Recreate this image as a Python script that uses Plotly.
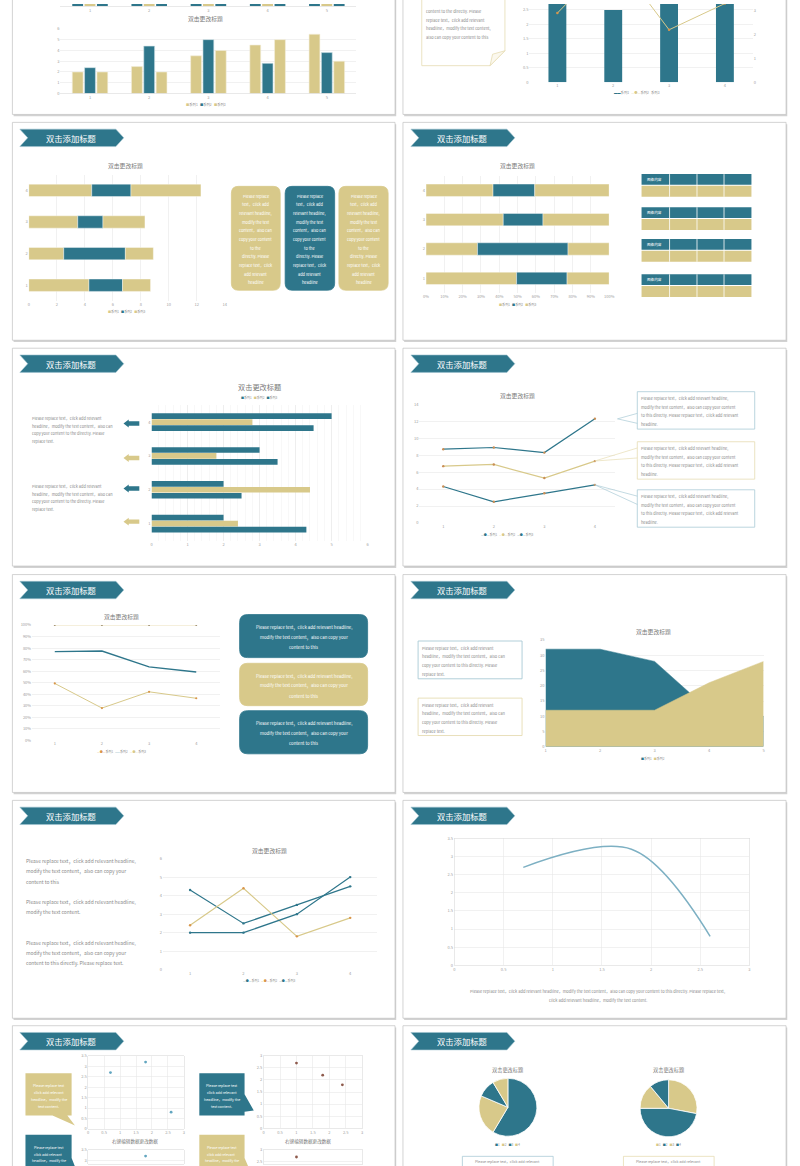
import numpy as np
import plotly.graph_objects as go

W, H = 800, 1166
BLUE = '#2E768B'
TAN = '#D8C98A'
GRID = '#E8E8E8'
TICK = '#A0A0A0'
TXT = '#8A8A8A'
ORANGE = '#D9964A'
LBLUE = '#A9CAD5'
LTAN = '#E6DCB3'
FONT = 'Noto Sans CJK SC, Noto Sans, sans-serif'

# ---------------- data ----------------
series_names = ['系列1', '系列2', '系列3']
cats4 = [1, 2, 3, 4]
series1 = [4.3, 2.5, 3.5, 4.5]
series2 = [2.4, 4.4, 1.8, 2.8]
series3 = [2.0, 2.0, 3.0, 5.0]

cats5 = [1, 2, 3, 4, 5]
col_a = [2.0, 2.5, 3.5, 4.5, 5.5]
col_b = [2.4, 4.4, 5.0, 2.8, 3.8]
col_c = [2.0, 2.0, 4.0, 5.0, 3.0]
prev_a = [4.0, 4.5, 3.8, 4.2, 4.6]   # chart above, only its bottom is visible
prev_b = [3.5, 3.0, 4.1, 3.6, 3.9]
prev_c = [4.2, 3.8, 3.9, 4.4, 4.0]

combo_bar = [4.3, 2.5, 3.5, 4.5]
combo_line = [2.9, 5.3, 2.2, 3.3]

area_s1 = [32, 32, 28, 12, 10]
area_s2 = [12, 12, 12, 21, 28]

curve_x = [0.7, 1.8, 2.6]
curve_y = [2.7, 3.2, 0.8]
scat2_x = [1.0, 1.8, 2.4]
scat2_y = [2.7, 2.2, 1.8]

pie_labels = ['1', '2', '3', '4']
pie1 = [8.2, 3.2, 1.4, 1.2]
pie2 = [2.8, 4.7, 1.4, 1.1]

TEXT_4 = ["Please replace text，click add relevant",
          "headline，modify the text content，also can",
          "copy your content to the directly. Please",
          "replace text."]
TEXT_BOX = ["Please replace", "text，click add", "relevant headline,", "modify the text",
            "content，also can", "copy your content", "to the", "directly. Please",
            "replace text，click", "add relevant", "headline"]
TEXT_CALL = ["Please replace text，click add relevant headline,",
             "modify the text content，also can copy your content",
             "to this directly. Please replace text，click add relevant",
             "headline."]
TEXT_3 = ["Please replace text，click add relevant headline,",
          "modify the text content，also can copy your",
          "content to this"]
TEXT_SMALL = ["Please replace text", "click add relevant", "headline，modify the", "text content."]


# ---------------- helpers ----------------
def X(x):
    return x / W


def Y(y):
    return 1 - y / H


fig = go.Figure()
shapes, annos, layout = [], [], {}
n_axes = [0]


def fmt(v):
    return ('%g' % round(v, 3))


def new_axes(xpix, ypix, xr, yr, xticks=None, yticks=None, xgrid=False, ygrid=True,
             xline=False, frame=False, xminor=None):
    n_axes[0] += 1
    n = n_axes[0]
    s = '' if n == 1 else str(n)
    y0 = max(0.0, Y(ypix[0]))
    y1 = min(1.0, Y(ypix[1]))
    base = dict(zeroline=False, ticks='', tickfont=dict(size=4, color=TICK, family=FONT),
                gridcolor=GRID, gridwidth=0.6, fixedrange=True, linecolor='#DADADA', linewidth=0.6)
    xa = dict(base, domain=[X(xpix[0]), X(xpix[1])], range=xr, anchor='y' + s,
              showgrid=xgrid, showline=xline or frame, mirror=frame)
    ya = dict(base, domain=[y0, y1], range=yr, anchor='x' + s, showgrid=ygrid,
              showline=frame, mirror=frame)
    for ax, t in ((xa, xticks), (ya, yticks)):
        if t is None:
            ax['showticklabels'] = False
            ax['tickmode'] = 'array'
            ax['tickvals'] = []
        else:
            ax['tickmode'] = 'array'
            ax['tickvals'] = list(t[0])
            ax['ticktext'] = list(t[1])
    if xminor:
        xa['minor'] = xminor
    layout['xaxis' + s] = xa
    layout['yaxis' + s] = ya
    return 'x' + s, 'y' + s


def ticks(vals, pct=False):
    vals = list(vals)
    return vals, [(f'{int(round(v * 100))}%' if pct else fmt(v)) for v in vals]


def rect(x0, y0, x1, y1, fill=None, line=None, lw=0.8, layer='above'):
    shapes.append(dict(type='rect', xref='paper', yref='paper', x0=X(x0), x1=X(x1),
                       y0=Y(y1), y1=Y(y0), fillcolor=fill or 'rgba(0,0,0,0)',
                       line=dict(color=line or 'rgba(0,0,0,0)', width=lw if line else 0),
                       layer=layer))


def poly(points, fill=None, line=None, lw=0.8, closed=True, layer='above'):
    d = 'M ' + ' L '.join(f'{X(x):.5f},{Y(y):.5f}' for x, y in points) + (' Z' if closed else '')
    shapes.append(dict(type='path', xref='paper', yref='paper', path=d,
                       fillcolor=fill or 'rgba(0,0,0,0)',
                       line=dict(color=line or 'rgba(0,0,0,0)', width=lw if line else 0),
                       layer=layer))


def rrect(x0, y0, x1, y1, r, fill, line=None):
    p = lambda x, y: f'{X(x):.5f},{Y(y):.5f}'
    d = (f'M {p(x0 + r, y0)} L {p(x1 - r, y0)} Q {p(x1, y0)} {p(x1, y0 + r)} '
         f'L {p(x1, y1 - r)} Q {p(x1, y1)} {p(x1 - r, y1)} L {p(x0 + r, y1)} '
         f'Q {p(x0, y1)} {p(x0, y1 - r)} L {p(x0, y0 + r)} Q {p(x0, y0)} {p(x0 + r, y0)} Z')
    shapes.append(dict(type='path', xref='paper', yref='paper', path=d, fillcolor=fill,
                       line=dict(color=line or fill, width=0.8), layer='above'))


def txt(x, y, s, size=4.5, color=TXT, xanchor='left'):
    annos.append(dict(x=X(x), y=Y(y), xref='paper', yref='paper', text=s, showarrow=False,
                      xanchor=xanchor, yanchor='middle', borderpad=0,
                      font=dict(size=size, color=color, family=FONT)))


def lines(x, y0, dy, rows, size, color=TXT, xanchor='left'):
    for i, r in enumerate(rows):
        txt(x, y0 + i * dy, r, size, color, xanchor)


def legend(xc, y, items, size=3.6):
    parts = [f"<span style='color:{c}'>{sym}</span>{name}" for sym, c, name in items]
    txt(xc, y, '   '.join(parts), size, TXT, 'center')


def banner(x0, y0):
    x1, y1 = x0 + 105, y0 + 17.5
    ym = (y0 + y1) / 2
    poly([(x0, y0), (x1 - 8, y0), (x1, ym), (x1 - 8, y1), (x0, y1), (x0 + 8, ym)],
         fill=BLUE, line='#9EC2CE', lw=0.6)
    txt((x0 + x1) / 2 - 0.5, ym, '双击添加标题', 8.3, 'white', 'center')


def title(x, y, s='双击更改标题', size=5.8):
    txt(x, y, s, size, '#777777', 'center')


# ---------------- slide frames ----------------
row_tops = [-108, 119, 346, 573.5, 800.5, 1027]
SLIDE_H = 219
for t in row_tops:
    for a, b in ((9.5, 396), (404, 791)):
        rect(a + 1.2, t + 1.8, b + 1.2, t + SLIDE_H + 1.8, fill='#D2D2D2', layer='below')
        rect(a, t, b, t + SLIDE_H, fill='white', line='#C2C2C2', lw=0.7, layer='below')
    if t > 0:
        banner(17, t + 6.8)
        banner(412, t + 6.8)

# ---------------- row 0 left: clustered columns ----------------
xa, ya = new_axes((58, 357), (2.3, 0), [0.5, 5.5], [0, 1], xticks=ticks(cats5), xline=True, ygrid=False)
for vals, c, off in ((prev_b, BLUE, -0.3), (prev_a, TAN, -0.092), (prev_c, BLUE, 0.117)):
    fig.add_bar(x=cats5, y=vals, width=0.183, offset=off, marker=dict(color=c, line=dict(width=0)),
                xaxis=xa, yaxis=ya)
title(205, 15)
xa, ya = new_axes((58, 357), (90, 25), [0.5, 5.5], [0, 6], xticks=ticks(cats5),
                  yticks=ticks(range(0, 7)), xline=True)
for vals, c, off in ((col_a, TAN, -0.3), (col_b, BLUE, -0.092), (col_c, TAN, 0.117)):
    fig.add_bar(x=cats5, y=vals, width=0.183, offset=off,
                marker=dict(color=c, line=dict(color='#F3EEDB' if c == TAN else '#CFE0E6', width=0.6)),
                xaxis=xa, yaxis=ya)
legend(205, 100.7, [('■', TAN, series_names[0]), ('■', BLUE, series_names[1]), ('■', TAN, series_names[2])], 3.3)

# ---------------- row 0 right: combo chart ----------------
poly([(423, -5), (507, -5), (507, 47), (492, 62), (423, 62)], fill='white', line=LTAN, lw=0.8)
poly([(492, 62), (494.5, 50.5), (507, 47)], fill='#FBF8EE', line=LTAN, lw=0.8)
lines(426, 7, 8.7, ["content to the directly. Please", "replace text，click add relevant",
                    "headline，modify the text content,", "also can copy your content to this"], 4.0)
xa, ya = new_axes((531.8, 757.4), (78.7, 0), [0.5, 4.5], [0, 78.7 / 29.08],
                  xticks=ticks(cats4), yticks=ticks(np.arange(0, 2.51, 0.5)))
n = n_axes[0]
n_axes[0] += 1   # reserve the number used by the secondary axis
layout[f'yaxis{n + 1}'] = dict(overlaying=f'y{n}', anchor=f'x{n}', side='right', range=[0, 78.7 / 24.0],
                               showgrid=False, zeroline=False, ticks='', fixedrange=True,
                               tickmode='array', tickvals=[0, 1, 2, 3], ticktext=['0', '1', '2', '3'],
                               tickfont=dict(size=4, color=TICK, family=FONT))
fig.add_bar(x=cats4, y=combo_bar, width=0.32, offset=-0.16, marker=dict(color=BLUE, line=dict(width=0)),
            xaxis=xa, yaxis=ya)
fig.add_scatter(x=cats4, y=combo_line, mode='lines+markers', line=dict(color=TAN, width=1),
                marker=dict(color=ORANGE, size=2.5), xaxis=xa, yaxis=f'y{n + 1}')
legend(640, 89.3, [('▬▬', BLUE, series_names[0]), ('—●—', TAN, series_names[1]), ('', TXT, series_names[2])], 3.3)

# ---------------- row 1 left: stacked bars ----------------
title(124, 162.3)
xa, ya = new_axes((26, 224), (298.6, 171.4), [0, 14], [0.5, 4.5], xticks=ticks(range(0, 15, 2)),
                  yticks=ticks(cats4), xgrid=True, ygrid=False)
cum1 = np.array(series1)
cum2 = cum1 + np.array(series2)
for vals, b, c in ((series1, None, TAN), (series2, cum1, BLUE), (series3, cum2, TAN)):
    fig.add_bar(y=cats4, x=vals, base=None if b is None else list(b), orientation='h', width=0.39,
                offset=-0.195, marker=dict(color=c, line=dict(color='white', width=0.4)),
                xaxis=xa, yaxis=ya)
legend(125, 309.3, [('■', TAN, series_names[0]), ('■', BLUE, series_names[1]), ('■', TAN, series_names[2])], 3.1)
for (x0, x1), c in (((230.7, 280), TAN), ((285, 335), BLUE), ((339.3, 389), TAN)):
    rrect(x0, 183.3, x1, 287.7, 7, c)
    lines((x0 + x1) / 2, 192.7, 8.7, TEXT_BOX, 3.9, 'white', 'center')

# ---------------- row 1 right: 100% stacked bars ----------------
title(520, 162.7)
tot = np.array(series1) + np.array(series2) + np.array(series3)
p1 = np.array(series1) / tot
p2 = np.array(series2) / tot
p3 = np.array(series3) / tot
xa, ya = new_axes((427.3, 612.3), (290.5, 172.5), [0, 1], [0.5, 4.5],
                  xticks=ticks(np.arange(0, 1.001, 0.1), pct=True), yticks=ticks(cats4), xgrid=True, ygrid=False)
for vals, b, c in ((p1, None, TAN), (p2, p1, BLUE), (p3, p1 + p2, TAN)):
    fig.add_bar(y=cats4, x=list(vals), base=None if b is None else list(b), orientation='h', width=0.42,
                offset=-0.21, marker=dict(color=c, line=dict(color='white', width=0.4)),
                xaxis=xa, yaxis=ya)
legend(520, 301.7, [('■', TAN, series_names[0]), ('■', BLUE, series_names[1]), ('■', TAN, series_names[2])], 3.1)
for top in (171, 204.3, 236.3, 271.7):
    rect(645, top, 756, top + 10.7, fill=BLUE)
    rect(645, top + 11.8, 756, top + 22.8, fill=TAN)
    for sx in (673.3, 701, 728.3):
        shapes.append(dict(type='line', xref='paper', yref='paper', x0=X(sx), x1=X(sx),
                           y0=Y(top), y1=Y(top + 22.8), line=dict(color='white', width=0.8)))
    txt(649, top + 5.4, '图像内容', 3.6, 'white')

# ---------------- row 2 left: clustered horizontal bars ----------------
title(259, 385, size=7.2)
legend(259, 395.3, [('■', BLUE, series_names[0]), ('■', TAN, series_names[1]), ('■', BLUE, series_names[2])], 3.0)
xa, ya = new_axes((150, 368.3), (539.3, 403.3), [0, 6], [0.5, 4.5], xticks=ticks(range(0, 7)),
                  yticks=ticks(cats4), xgrid=True, ygrid=False,
                  xminor=dict(dtick=0.2, showgrid=True, gridcolor='#F1F1F1', gridwidth=0.5))
for vals, c, off in ((series3, BLUE, 0.092), (series2, TAN, -0.084), (series1, BLUE, -0.26)):
    fig.add_bar(y=cats4, x=vals, orientation='h', width=0.168, offset=off,
                marker=dict(color=c, line=dict(width=0)), xaxis=xa, yaxis=ya)
for yc, c in ((421.7, BLUE), (456.3, TAN), (487, BLUE), (520.3, TAN)):
    poly([(121.7, yc), (127, yc - 4), (127, yc - 2.2), (137.7, yc - 2.2), (137.7, yc + 2.2),
          (127, yc + 2.2), (127, yc + 4)], fill=c)
lines(28.3, 416, 7.8, TEXT_4, 3.9)
lines(28.3, 484.3, 7.8, TEXT_4, 3.9)

# ---------------- row 2 right: stacked lines ----------------
title(519.3, 393.7)
xa, ya = new_axes((420.7, 618.3), (521.7, 402.3), [0.53, 4.40], [0, 14], xticks=ticks(cats4),
                  yticks=ticks(range(0, 15, 2)))
c1 = np.array(series1)
c2 = c1 + np.array(series2)
c3 = c2 + np.array(series3)
for vals, c in ((c1, BLUE), (c2, TAN), (c3, BLUE)):
    fig.add_scatter(x=cats4, y=list(vals), mode='lines+markers', line=dict(color=c, width=1.2),
                    marker=dict(color='#C98E55', size=2.4), xaxis=xa, yaxis=ya)
legend(510, 533, [('—●—', BLUE, series_names[0]), ('—●—', TAN, series_names[1]), ('—●—', BLUE, series_names[2])], 3.0)
for top, lc, ptr in ((389.7, LBLUE, [(640.7, 411.5), (620.7, 417), (640.7, 421.5)]),
                     (440, LTAN, [(640.7, 446.3), (597.7, 459.4), (640.7, 456.3)]),
                     (488.3, LBLUE, [(640.7, 494.7), (597.7, 483.3), (640.7, 503)])):
    rect(640.7, top, 759.3, top + 37.6, fill='white', line=lc, lw=0.8)
    poly(ptr, line=lc, lw=0.7, closed=False)
    lines(643.3, top + 6.6, 8.6, TEXT_CALL, 3.9)

# ---------------- row 3 left: 100% stacked lines ----------------
title(120, 615.3)
xa, ya = new_axes((29.3, 219), (740.3, 624.3), [0.517, 4.5], [0, 1], xticks=ticks(cats4),
                  yticks=ticks(np.arange(0, 1.001, 0.1), pct=True))
fig.add_scatter(x=cats4, y=list(p1), mode='lines+markers', line=dict(color=TAN, width=1),
                marker=dict(color=ORANGE, size=2.2), xaxis=xa, yaxis=ya)
fig.add_scatter(x=cats4, y=list(p1 + p2), mode='lines', line=dict(color=BLUE, width=1.3),
                xaxis=xa, yaxis=ya)
fig.add_scatter(x=cats4, y=list(p1 + p2 + p3), mode='lines+markers', line=dict(color='#EBDDB5', width=0.8),
                marker=dict(color='#9A8A6A', size=2), xaxis=xa, yaxis=ya)
legend(120, 751.7, [('—●—', ORANGE, series_names[0]), ('——', BLUE, series_names[1]), ('—●—', TAN, series_names[2])], 3.0)
for top, bot, c in ((613.7, 657, BLUE), (662.7, 705.3, TAN), (710.3, 753.7, BLUE)):
    rrect(239, top, 368.3, bot, 8, c)
    lines(303.7, top + 13, 9.8, TEXT_3, 4.3, 'white', 'center')

# ---------------- row 3 right: area chart ----------------
title(656.7, 631)
xa, ya = new_axes((548, 768.3), (746.7, 639.3), [1, 5], [0, 35], xticks=ticks(cats5),
                  yticks=ticks(range(0, 36, 5)))
fig.add_scatter(x=cats5, y=area_s1, mode='lines', fill='tozeroy', fillcolor=BLUE,
                line=dict(color=BLUE, width=0.5), xaxis=xa, yaxis=ya)
fig.add_scatter(x=cats5, y=area_s2, mode='lines', fill='tozeroy', fillcolor=TAN,
                line=dict(color=TAN, width=0.5), xaxis=xa, yaxis=ya)
legend(656.7, 758.3, [('■', BLUE, series_names[0]), ('■', TAN, series_names[1])], 3.0)
rect(419.3, 640.3, 524.3, 678.3, fill='white', line=LBLUE, lw=0.9)
rect(419.3, 697.7, 524.3, 735.3, fill='white', line=LTAN, lw=0.9)
TEXT_4b = TEXT_4[:2] + ["copy your content to this directly. Please", "replace text."]
lines(422.3, 647, 8.67, TEXT_4b, 4.0)
lines(422.3, 704.3, 8.67, TEXT_4b, 4.0)

# ---------------- row 4 left: line chart ----------------
title(269.3, 850.7)
xa, ya = new_axes((161.7, 377.7), (970.7, 859), [0.494, 4.5], [0, 6], xticks=ticks(cats4),
                  yticks=ticks(range(0, 7)))
for vals, c, mc in ((series1, BLUE, BLUE), (series2, TAN, ORANGE), (series3, BLUE, BLUE)):
    fig.add_scatter(x=cats4, y=vals, mode='lines+markers', line=dict(color=c, width=1.2),
                    marker=dict(color=mc, size=2.4), xaxis=xa, yaxis=ya)
legend(269.3, 981.3, [('—●—', BLUE, series_names[0]), ('—●—', ORANGE, series_names[1]), ('—●—', BLUE, series_names[2])], 3.0)
lines(22.3, 861.3, 10.2, TEXT_3, 4.9)
lines(22.3, 902.7, 10.2, ["Please replace text，click add relevant headline,", "modify the text content."], 4.9)
lines(22.3, 943.7, 10.0, ["Please replace text，click add relevant headline,",
                          "modify the text content，also can copy your",
                          "content to this directly. Please replace text."], 4.9)

# ---------------- row 4 right: smooth scatter ----------------
xa, ya = new_axes((456, 754), (966.3, 838.7), [0, 3], [0, 3.5], xticks=ticks(np.arange(0, 3.01, 0.5)),
                  yticks=ticks(np.arange(0, 3.51, 0.5)), xgrid=True, frame=True)
fig.add_scatter(x=curve_x, y=curve_y, mode='lines', line=dict(color='#7DB0C3', width=1.5, shape='spline',
                smoothing=1.0), xaxis=xa, yaxis=ya)
lines(601, 992, 8.7, ["Please replace text，click add relevant headline，modify the text content，also can copy your content to this directly. Please replace text,",
                      "click add relevant headline，modify the text content."], 4.0, TXT, 'center')

# ---------------- row 5 left: scatter charts ----------------
xa, ya = new_axes((86, 182.7), (1130.7, 1057.3), [0, 3], [0, 3.5], xticks=ticks(np.arange(0, 3.01, 0.5)),
                  yticks=ticks(np.arange(0, 3.51, 0.5)), xgrid=True, frame=True)
fig.add_scatter(x=curve_x, y=curve_y, mode='markers', marker=dict(color='#62A6C0', size=2.8), xaxis=xa, yaxis=ya)
xa, ya = new_axes((263.3, 362.7), (1130, 1057.3), [0, 3], [0, 3], xticks=ticks(np.arange(0, 3.01, 0.5)),
                  yticks=ticks(np.arange(0, 3.01, 0.5)), xgrid=True, frame=True)
fig.add_scatter(x=scat2_x, y=scat2_y, mode='markers', marker=dict(color='#8E5A4C', size=2.8), xaxis=xa, yaxis=ya)
xa, ya = new_axes((86, 182.7), (1166, 1151.7), [0, 3], [3.5 - 14.3 / 20.97, 3.5],
                  yticks=ticks([3.0, 3.5]), xgrid=True, frame=True)
fig.add_scatter(x=curve_x, y=curve_y, mode='markers', marker=dict(color='#62A6C0', size=2.8), xaxis=xa, yaxis=ya)
xa, ya = new_axes((263.3, 362.7), (1166, 1151.7), [0, 3], [3 - 14.3 / 24.2, 3],
                  yticks=ticks([2.5, 3.0]), xgrid=True, frame=True)
fig.add_scatter(x=scat2_x, y=scat2_y, mode='markers', marker=dict(color='#8E5A4C', size=2.8), xaxis=xa, yaxis=ya)
txt(133.3, 1143, '右键编辑数据更改数据', 4.6, '#777777', 'center')
txt(308.3, 1143, '右键编辑数据更改数据', 4.6, '#777777', 'center')
poly([(22.7, 1074.7), (69.3, 1074.7), (69.3, 1117.3), (65, 1117.3), (72.7, 1127.3), (50, 1117.3), (22.7, 1117.3)], fill=TAN)
poly([(198.3, 1074.7), (244, 1074.7), (244, 1096), (253.3, 1112.3), (244, 1113.5), (244, 1117.3), (198.3, 1117.3)], fill=BLUE)
poly([(22.7, 1136.7), (69.3, 1136.7), (69.3, 1160), (72.5, 1168), (22.7, 1168)], fill=BLUE)
poly([(198.3, 1136.7), (244, 1136.7), (244, 1160), (247.5, 1168), (198.3, 1168)], fill=TAN)
lines(46, 1086.7, 7, TEXT_SMALL, 3.6, 'white', 'center')
lines(221.2, 1086.7, 7, TEXT_SMALL, 3.6, 'white', 'center')
lines(46, 1149.8, 6.2, TEXT_SMALL[:3], 3.4, 'white', 'center')
lines(221.2, 1149.8, 6.2, TEXT_SMALL[:3], 3.4, 'white', 'center')

# ---------------- row 5 right: pies ----------------
for cx, cy, r, vals, cols in ((510, 1109, 29.3, pie1, [BLUE, TAN, BLUE, TAN]),
                              (672.3, 1110, 28.8, pie2, [TAN, BLUE, TAN, BLUE])):
    fig.add_pie(values=vals, labels=pie_labels, sort=False, direction='clockwise', rotation=0,
                textinfo='none', hoverinfo='skip', showlegend=False,
                marker=dict(colors=cols, line=dict(color='white', width=0.8)),
                domain=dict(x=[X(cx - r), X(cx + r)], y=[Y(cy + r), Y(cy - r)]))
    title(cx, 1071.7, size=5.2)
    legend(cx, 1147.3, [('■', cols[i], pie_labels[i]) for i in range(4)], 3.0)
rect(464, 1158.3, 555.7, 1180, fill='white', line=LBLUE, lw=0.8)
rect(626.7, 1158.3, 718.3, 1180, fill='white', line=LTAN, lw=0.8)
txt(509.8, 1163.3, 'Please replace text，click add relevant', 3.6, TXT, 'center')
txt(672.5, 1163.3, 'Please replace text，click add relevant', 3.6, TXT, 'center')

fig.update_layout(width=W, height=H, margin=dict(l=0, r=0, t=0, b=0), paper_bgcolor='white',
                  plot_bgcolor='rgba(0,0,0,0)', showlegend=False, barmode='overlay',
                  shapes=shapes, annotations=annos, font=dict(family=FONT), **layout)
fig.write_html('out.html', config={'displayModeBar': False, 'staticPlot': True},
               post_script="document.body.style.margin='0px';document.body.style.padding='0px';"
                           "document.documentElement.style.overflow='hidden';")
